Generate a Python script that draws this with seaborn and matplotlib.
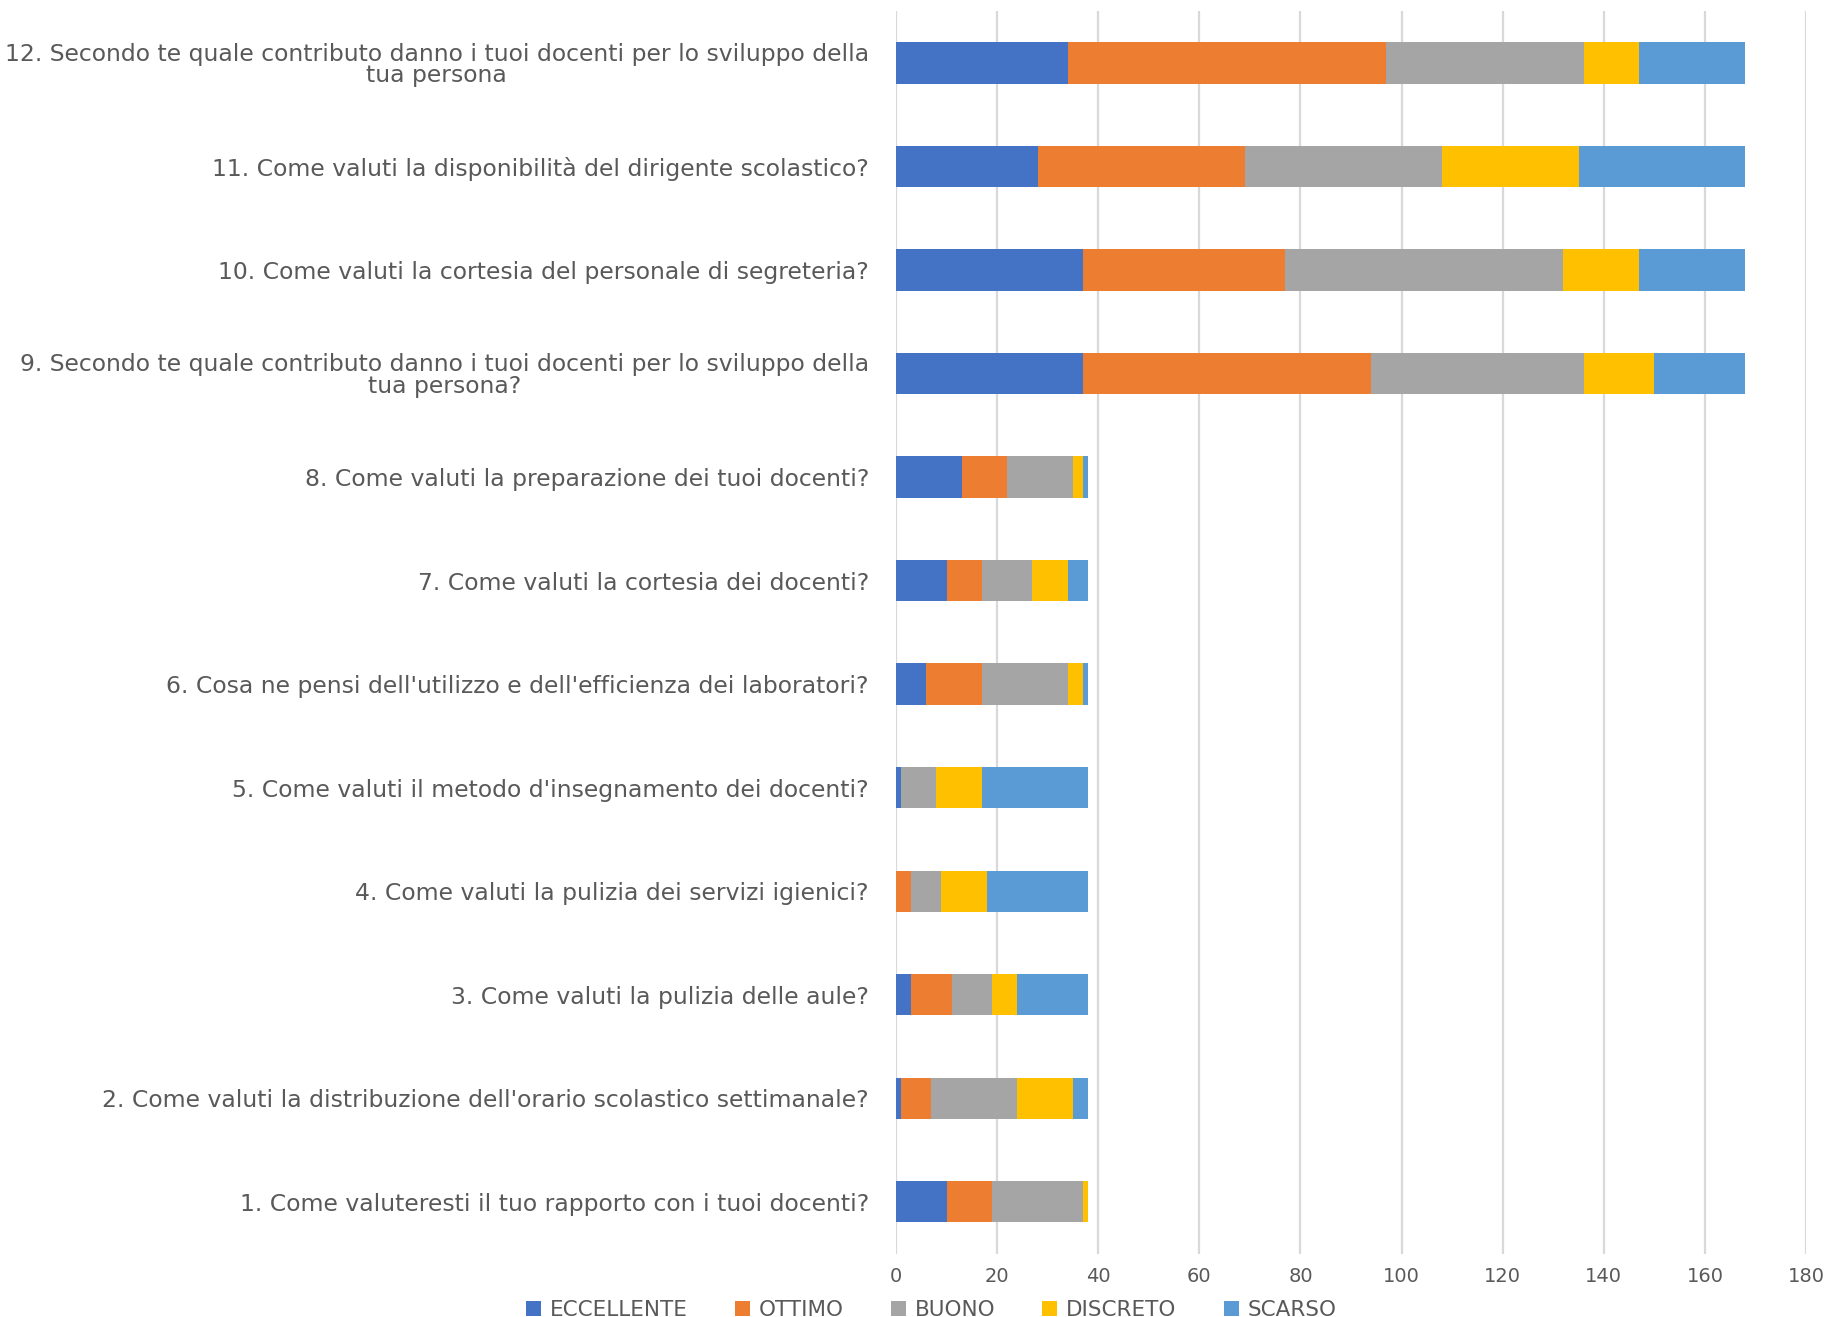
import matplotlib
matplotlib.use("Agg")
import matplotlib.pyplot as plt
from matplotlib.patches import Patch
import numpy as np
import pandas as pd
import seaborn as sns

# Survey questions, listed from top to bottom of the chart
domande = [
    "12. Secondo te quale contributo danno i tuoi docenti per lo sviluppo della\ntua persona",
    "11. Come valuti la disponibilità del dirigente scolastico?",
    "10. Come valuti la cortesia del personale di segreteria?",
    "9. Secondo te quale contributo danno i tuoi docenti per lo sviluppo della\ntua persona?",
    "8. Come valuti la preparazione dei tuoi docenti?",
    "7. Come valuti la cortesia dei docenti?",
    "6. Cosa ne pensi dell'utilizzo e dell'efficienza dei laboratori?",
    "5. Come valuti il metodo d'insegnamento dei docenti?",
    "4. Come valuti la pulizia dei servizi igienici?",
    "3. Come valuti la pulizia delle aule?",
    "2. Come valuti la distribuzione dell'orario scolastico settimanale?",
    "1. Come valuteresti il tuo rapporto con i tuoi docenti?",
]

giudizi = ["ECCELLENTE", "OTTIMO", "BUONO", "DISCRETO", "SCARSO"]

eccellente = [34, 28, 37, 37, 13, 10, 6, 1, 0, 3, 1, 10]
ottimo     = [63, 41, 40, 57, 9, 7, 11, 0, 3, 8, 6, 9]
buono      = [39, 39, 55, 42, 13, 10, 17, 7, 6, 8, 17, 18]
discreto   = [11, 27, 15, 14, 2, 7, 3, 9, 9, 5, 11, 1]
scarso     = [21, 33, 21, 18, 1, 4, 1, 21, 20, 14, 3, 0]

colori = ["#4472C4", "#ED7D31", "#A5A5A5", "#FFC000", "#5B9BD5"]
testo = "#595959"

df = pd.DataFrame({"domanda": domande, "ECCELLENTE": eccellente, "OTTIMO": ottimo,
                   "BUONO": buono, "DISCRETO": discreto, "SCARSO": scarso})
cumulato = df[giudizi].cumsum(axis=1)
cumulato["domanda"] = df["domanda"]

sns.set_theme(style="white")
plt.rcParams["font.family"] = ["DejaVu Sans"]

fig = plt.figure(figsize=(18.33, 13.17), dpi=100)
ax = fig.add_axes([0.4888, 0.0482, 0.9853 - 0.4888, 0.9914 - 0.0482])

# Stacked bars: draw running totals from the longest down so each segment shows
for g, c in reversed(list(zip(giudizi, colori))):
    sns.barplot(data=cumulato, x=g, y="domanda", order=domande, orient="h",
                color=c, saturation=1, width=0.4, ax=ax, zorder=3,
                linewidth=0)

ax.set_xlim(0, 180)
ax.set_xticks(np.arange(0, 181, 20))
ax.set_ylim(len(domande) - 0.5, -0.5)
ax.set_xlabel("")
ax.set_ylabel("")
for s in ax.spines.values():
    s.set_visible(False)
ax.grid(axis="x", color="#D9D9D9", linewidth=1.6, zorder=0)
ax.grid(axis="y", visible=False)
ax.set_axisbelow(True)
ax.tick_params(axis="x", length=0, pad=10, labelsize=14, labelcolor=testo)
ax.tick_params(axis="y", length=0, pad=19.5, labelsize=16.9, labelcolor=testo)
for t in ax.get_yticklabels():
    t.set_multialignment("center")
    t.set_linespacing(0.93)

handles = [Patch(facecolor=c, edgecolor="none", label=g) for g, c in zip(giudizi, colori)]
fig.legend(handles=handles, loc="center", bbox_to_anchor=(0.508, 0.0055), ncol=5,
           frameon=False, fontsize=15.5, labelcolor=testo, handlelength=0.7,
           handleheight=0.7, handletextpad=0.4, columnspacing=2.2)

fig.savefig("out.png", dpi=100)
